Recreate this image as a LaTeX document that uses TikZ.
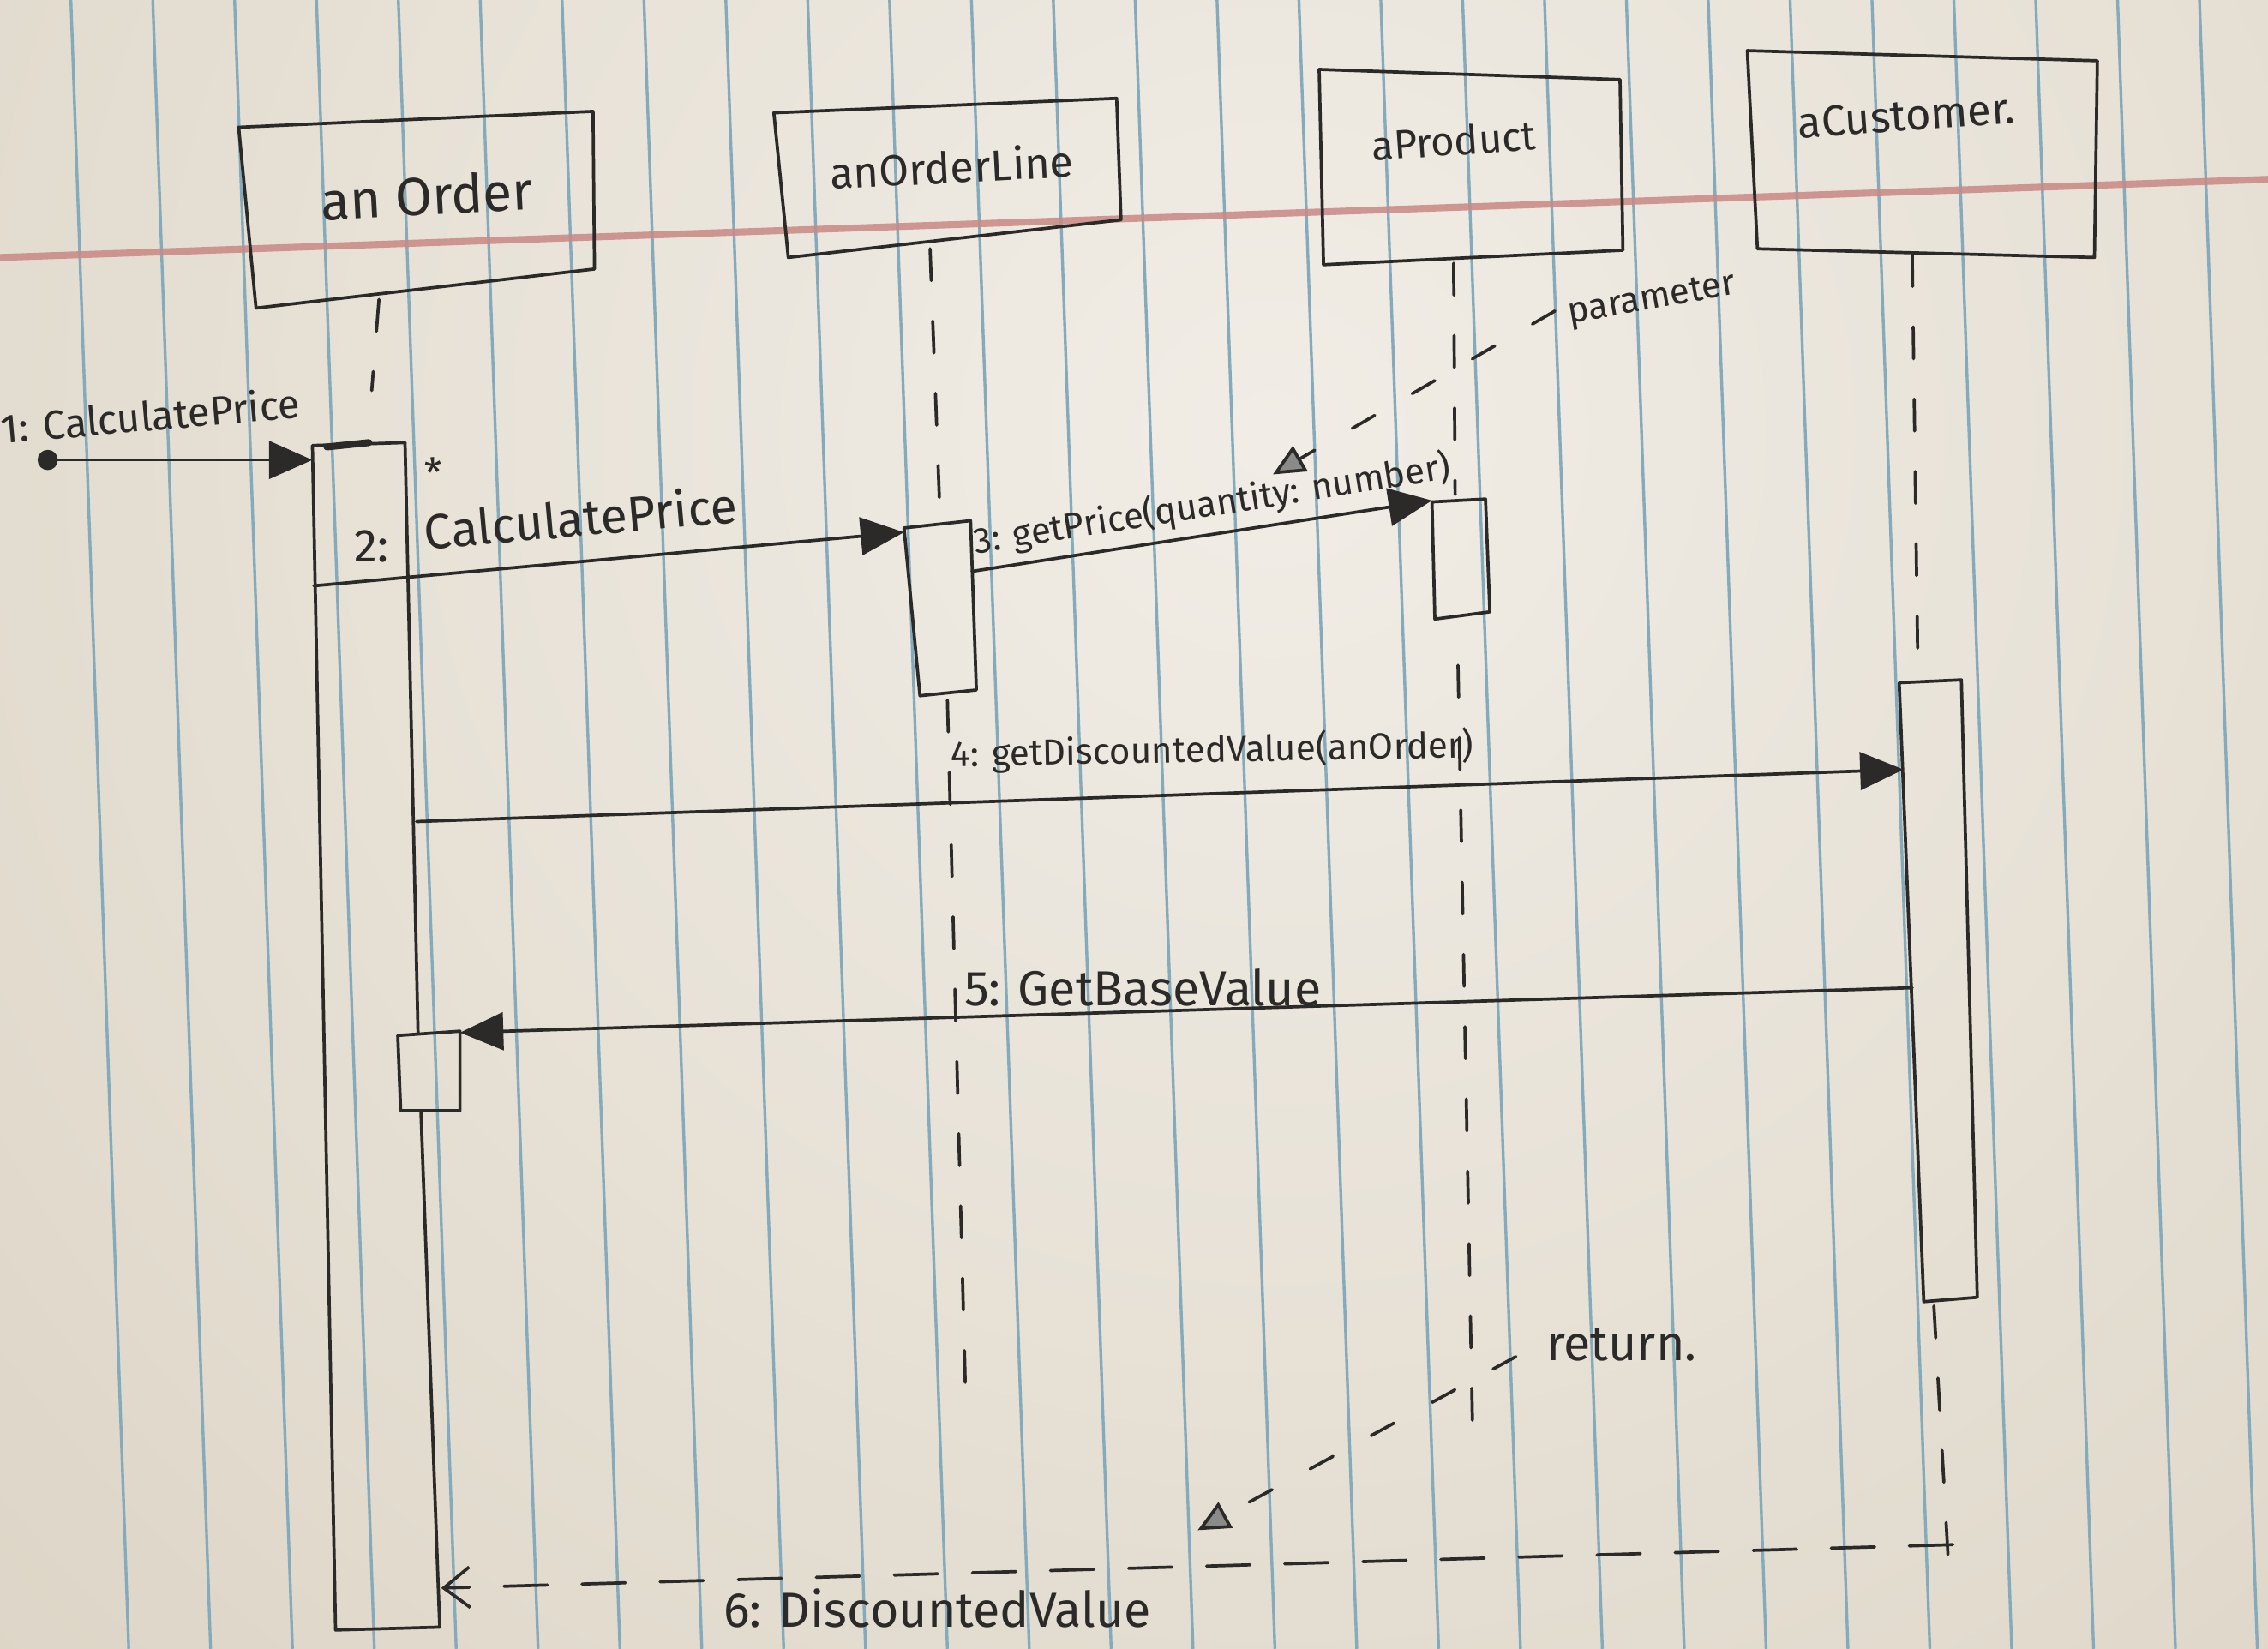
\documentclass[tikz,border=0pt]{standalone}
\usepackage{fontspec}
\setmainfont{Fira Sans}
\usetikzlibrary{arrows.meta}

\definecolor{inkc}{HTML}{2B2A28}
\definecolor{rulec}{HTML}{84AABB}
\definecolor{marginc}{HTML}{C98884}
\definecolor{paperhi}{HTML}{F1EDE6}
\definecolor{paperlo}{HTML}{DCD4C5}

\tikzset{
  ink/.style={draw=inkc, line width=1.1pt, line join=round, line cap=round},
  lifeline/.style={ink, dash pattern=on 11pt off 14pt},
  lbl/.style={font=\fontsize{#1}{#1}\selectfont, text=inkc, inner sep=0pt},
  msgarrow/.style={ink, -{Triangle[length=15pt,width=13pt]}},
  retarrow/.style={ink, dash pattern=on 15pt off 12pt, -{Straight Barb[length=9pt,width=14pt,line width=1.1pt]}},
  notearrow/.style={ink, dash pattern=on 9pt off 15pt, -{Triangle[length=11pt,width=10pt,line width=1.1pt,fill=inkc!55]}},
  startdot/.style={circle, fill=inkc, minimum size=7pt, inner sep=0pt},
}

\begin{document}
\begin{tikzpicture}[x=0.5pt, y=-0.5pt]
\useasboundingbox (0,0) rectangle (1568,1140);

% ---- lined paper ----
\begin{scope}
  \clip (0,0) rectangle (1568,1140);
  \fill[paperlo] (0,0) rectangle (1568,1140);
  \shade[inner color=paperhi, outer color=paperlo] (880,300) circle (1300);
  \foreach \k in {0,...,27}
    \draw[rulec, line width=1.0pt] ({49+56.6*\k},0) -- ({89+56.6*\k},1140);
  \draw[marginc, line width=2.4pt, opacity=0.85] (0,178) -- (1568,124);
\end{scope}

% ---- object boxes ----
\draw[ink] (165,88) -- (410,77) -- (411,186) -- (177,213) -- cycle;
\node[lbl=18.5, rotate=3] (order) at (295,135) {an Order};

\draw[ink] (535,78) -- (772,68) -- (775,152) -- (545,178) -- cycle;
\node[lbl=15, rotate=3] (orderline) at (658,115) {anOrderLine};

\draw[ink] (912,48) -- (1120,55) -- (1122,173) -- (915,183) -- cycle;
\node[lbl=14, rotate=4] (product) at (1005,97) {aProduct};

\draw[ink] (1208,35) -- (1450,42) -- (1448,178) -- (1215,172) -- cycle;
\node[lbl=15, rotate=4] (customer) at (1318,80) {aCustomer.};

% ---- lifelines ----
\coordinate (oTop) at (262,207);   \coordinate (oBot) at (257,270);
\coordinate (lTop) at (643,172);   \coordinate (lMid) at (650,360);
\coordinate (lLow) at (655,484);   \coordinate (lEnd) at (668,982);
\coordinate (pTop) at (1005,182);  \coordinate (pMid) at (1006,342);
\coordinate (pLow) at (1008,460);  \coordinate (pEnd) at (1018,985);
\coordinate (cTop) at (1322,176);  \coordinate (cMid) at (1326,468);
\coordinate (cLow) at (1337,903);  \coordinate (cEnd) at (1347,1080);
\draw[lifeline] (oTop) -- (oBot);
\draw[lifeline] (lTop) -- (lMid);
\draw[lifeline] (lLow) -- (lEnd);
\draw[lifeline] (pTop) -- (pMid);
\draw[lifeline] (pLow) -- (pEnd);
\draw[lifeline] (cTop) -- (cMid);
\draw[lifeline] (cLow) -- (cEnd);

% ---- activation bars ----
% anOrder (outer bar, right edge broken by the nested box)
\draw[ink] (280,306) -- (216,308) -- (232,1127) -- (304,1125) -- (291,768);
\draw[ink] (280,306) -- (289,714);
\draw[inkc, line width=2.4pt, line cap=round] (226,309) -- (255,306);
% nested self-activation
\draw[ink] (275,716) -- (318,713) -- (318,768) -- (277,768) -- cycle;
% anOrderLine
\draw[ink] (625,365) -- (671,360) -- (675,477) -- (636,481) -- cycle;
% aProduct
\draw[ink] (990,347) -- (1027,345) -- (1030,423) -- (992,428) -- cycle;
% aCustomer
\draw[ink] (1313,472) -- (1356,470) -- (1367,897) -- (1330,900) -- cycle;

% ---- messages ----
\node[startdot] (start) at (33,318) {};
\coordinate (m1e) at (216,318);
\draw[msgarrow] (start) -- (m1e);
\node[lbl=14, rotate=5] (m1lbl) at (104,287) {1: CalculatePrice};

\coordinate (m2s) at (217,405);  \coordinate (m2e) at (625,368);
\draw[msgarrow] (m2s) -- (m2e);
\node[lbl=16] (m2num) at (257,378) {2:};
\node[lbl=17, rotate=5, anchor=base west] (m2lbl) at (294,380)
  {\makebox[0pt][l]{\hspace{2pt}\raisebox{1.25em}{\fontsize{14}{14}\selectfont *}}CalculatePrice};

\coordinate (m3s) at (672,395);  \coordinate (m3e) at (990,346);
\draw[msgarrow] (m3s) -- (m3e);
\node[lbl=12.5, rotate=9] (m3lbl) at (838,349) {3: getPrice(quantity: number)};

\coordinate (m4s) at (288,568);  \coordinate (m4e) at (1316,532);
\draw[msgarrow] (m4s) -- (m4e);
\node[lbl=12.5, rotate=1] (m4lbl) at (838,519) {4: getDiscountedValue(anOrder)};

\coordinate (m5s) at (1322,683); \coordinate (m5e) at (318,714);
\draw[msgarrow] (m5s) -- (m5e);
\node[lbl=17] (m5lbl) at (790,683) {5: GetBaseValue};

\coordinate (m6s) at (1350,1068); \coordinate (m6e) at (305,1098);
\draw[retarrow] (m6s) -- (m6e);
\node[lbl=17] (m6lbl) at (648,1112) {6: DiscountedValue};

% ---- notes ----
\coordinate (parS) at (1075,215); \coordinate (parE) at (880,328);
\draw[notearrow] (parS) -- (parE);
\node[lbl=12.5, rotate=10] (parlbl) at (1142,208) {parameter};

\coordinate (retS) at (1048,938); \coordinate (retE) at (828,1058);
\draw[notearrow] (retS) -- (retE);
\node[lbl=17] (retlbl) at (1121,930) {return.};
\end{tikzpicture}
\end{document}
